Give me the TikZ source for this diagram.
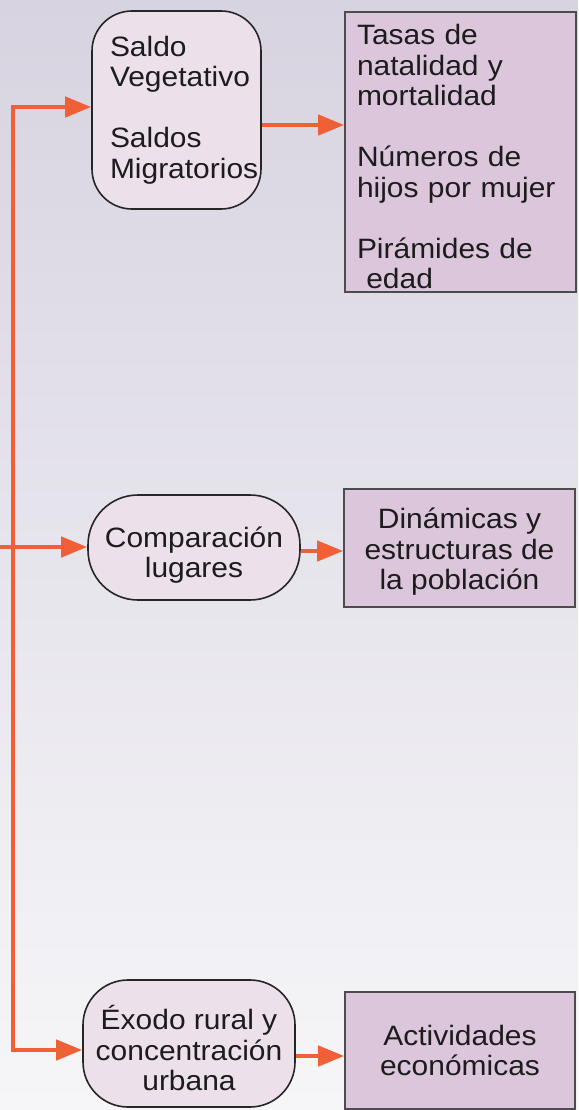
\documentclass[tikz,border=0pt]{standalone}
\usepackage{fontspec}
\setmainfont{Liberation Sans}[FakeStretch=1.07]
\usepackage{tikz}
\usetikzlibrary{arrows.meta,positioning,calc}
\definecolor{bgtop}{HTML}{D7D3E0}
\definecolor{bgbot}{HTML}{F6F6F8}
\definecolor{ovalfill}{HTML}{ECE1EB}
\definecolor{boxfill}{HTML}{DBC6DB}
\definecolor{flowcol}{HTML}{F15F37}
\definecolor{txtcol}{HTML}{1C1C1C}
\newcommand{\topstrut}[1]{\rule{0pt}{#1}}
\tikzset{>=latex}
\tikzset{
    ovalbox/.style={draw=black!85, line width=1.6pt, fill=ovalfill, text=txtcol, inner sep=0pt},
    infobox/.style={draw=black!70, line width=1.6pt, fill=boxfill, text=txtcol, inner sep=0pt},
    flow/.style={draw=flowcol, line width=4.3pt, -{Triangle[length=26pt,width=20pt]}}
}

\begin{document}
\begin{tikzpicture}[x=1pt, y=1pt, font=\fontsize{28}{30.5}\selectfont]
			% Background
			\useasboundingbox (0,0) rectangle (578,-1110);
			\shade[top color=bgtop, bottom color=bgbot] (0,0) rectangle (578,-1110);
			
			% Left column
			\node[ovalbox, rounded corners=40pt, text width=133pt, inner xsep=18pt, minimum height=198pt, align=left] (saldo) at (176.5,-110) {Saldo\\Vegetativo\\[30.5pt]Saldos\\Migratorios};
			\node[ovalbox, rounded corners=50pt, minimum width=212pt, minimum height=105pt, align=center] (comp) at (194,-547.5) {\topstrut{36pt}Comparación\\lugares};
			\node[ovalbox, rounded corners=45pt, minimum width=212pt, minimum height=127pt, align=center] (exodo) at (189,-1043.5) {\topstrut{34pt}Éxodo rural y\\concentración\\urbana};
			
			% Right column
			\node[infobox, text width=207pt, inner xsep=12pt, minimum height=280pt, align=left] (tasas) at (460.5,-152) {\topstrut{30pt}Tasas de\\natalidad y\\mortalidad\\[30.5pt]Números de\\hijos por mujer\\[30.5pt]Pirámides de\\\ edad};
			\node[infobox, minimum width=231pt, minimum height=118pt, align=center] (dinam) at (459.5,-548) {\topstrut{28pt}Dinámicas y\\estructuras de\\la población};
			\node[infobox, minimum width=230pt, minimum height=117pt, align=center] (activ) at (460,-1050.5) {Actividades\\económicas};
			
			% Trunk
			\coordinate (ttop) at (13,-107);
			\coordinate (tbot) at (13,-1050);
			\coordinate (tin) at (0,-547);
			\draw[flow] (tbot) -- (ttop) -- (ttop -| saldo.west);
			\draw[flow] (ttop) -- (tbot) -- (tbot -| exodo.west);
			\draw[flow] (tin) -- (tin -| comp.west);
			
			% Arrows
			\draw[flow] ([yshift=-15pt]saldo.east) -- ([yshift=-15pt]saldo.east -| tasas.west);
			\draw[flow] ([yshift=-3.5pt]comp.east) -- ([yshift=-3.5pt]comp.east -| dinam.west);
			\draw[flow] ([yshift=-12.5pt]exodo.east) -- ([yshift=-12.5pt]exodo.east -| activ.west);
		\end{tikzpicture}
\end{document}
